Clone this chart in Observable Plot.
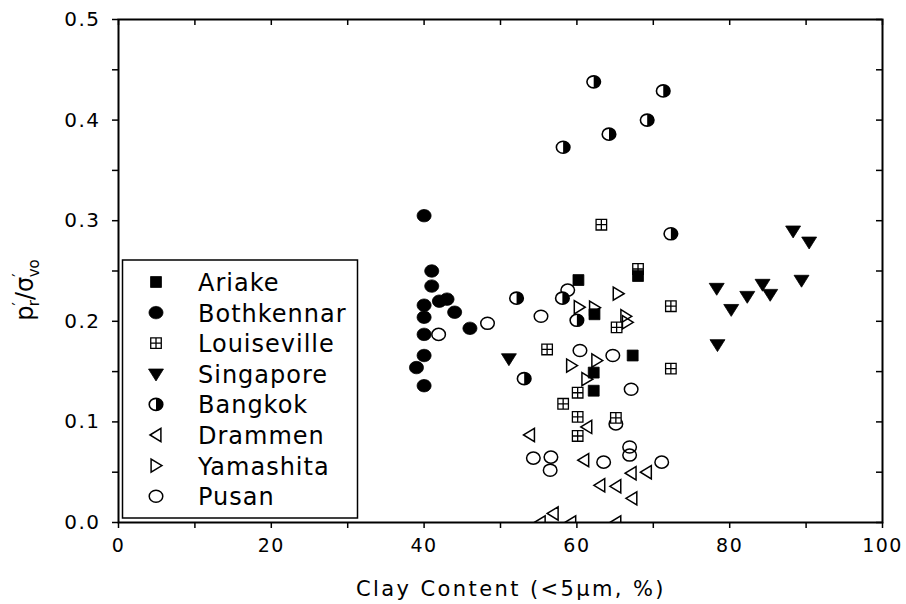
<!DOCTYPE html>
<html><head><meta charset="utf-8">
<script src="https://cdn.jsdelivr.net/npm/d3@7"></script>
<script src="https://cdn.jsdelivr.net/npm/@observablehq/plot@0.6"></script>
<style>html,body{margin:0;padding:0;background:#fff;overflow:hidden}</style>
</head><body><div id="chart"></div>
<script>
// ---- data (clay content %, p'r/σ'vo) ----
const ariakeClay = [68.0, 60.2, 62.3, 67.3, 62.2, 62.2];
const ariakeRatio = [0.245, 0.241, 0.207, 0.166, 0.149, 0.131];
const bothkennarClay = [40, 41, 41, 40, 42, 43, 40, 44, 40, 46, 40, 39, 40];
const bothkennarRatio = [0.305, 0.250, 0.235, 0.216, 0.220, 0.222, 0.204, 0.209, 0.187, 0.193, 0.166, 0.154, 0.136];
const louisevilleClay = [63.2, 68.0, 72.3, 65.2, 56.1, 72.3, 60.1, 58.2, 60.1, 65.1, 60.1];
const louisevilleRatio = [0.296, 0.252, 0.215, 0.194, 0.172, 0.153, 0.129, 0.118, 0.105, 0.104, 0.086];
const singaporeClay = [51.1, 88.3, 90.4, 89.4, 84.3, 78.3, 85.3, 82.3, 80.2, 78.4];
const singaporeRatio = [0.163, 0.290, 0.279, 0.241, 0.237, 0.233, 0.227, 0.225, 0.212, 0.177];
const bangkokClay = [62.2, 71.3, 69.2, 64.2, 58.2, 72.3, 52.1, 58.1, 60.0, 53.1];
const bangkokRatio = [0.438, 0.429, 0.400, 0.386, 0.373, 0.287, 0.223, 0.223, 0.201, 0.143];
const drammenClay = [53.8, 61.3, 60.9, 67.1, 69.1, 63.0, 65.1, 67.2, 56.9, 55.2, 59.2, 65.1];
const drammenRatio = [0.087, 0.095, 0.062, 0.049, 0.050, 0.037, 0.036, 0.024, 0.009, 0.0, 0.0, 0.0];
const yamashitaClay = [65.4, 60.3, 62.3, 66.4, 66.6, 62.6, 59.3, 61.3];
const yamashitaRatio = [0.2275, 0.214, 0.2135, 0.205, 0.199, 0.161, 0.156, 0.1425];
const pusanClay = [41.9, 48.3, 55.3, 58.8, 60.4, 64.7, 67.1, 65.1, 66.9, 66.9, 54.3, 56.6, 56.5, 63.5, 71.1];
const pusanRatio = [0.187, 0.198, 0.205, 0.231, 0.171, 0.166, 0.1325, 0.098, 0.075, 0.067, 0.064, 0.065, 0.052, 0.060, 0.060];

const siteNames = ["Ariake", "Bothkennar", "Louiseville", "Singapore", "Bangkok", "Drammen", "Yamashita", "Pusan"];
const xTicks = [0, 10, 20, 30, 40, 50, 60, 70, 80, 90, 100];
const yTicks = [0, 0.05, 0.1, 0.15, 0.2, 0.25, 0.3, 0.35, 0.4, 0.45, 0.5];
const xTitle = "Clay Content (<5\u03bcm, %)";

const rows = (xs, ys) => xs.map((x, i) => ({x, y: ys[i]}));

// ---- custom symbols ----
function ellipse(ctx, rx, ry) {
  const k = 0.5523;
  ctx.moveTo(rx, 0);
  ctx.bezierCurveTo(rx, ry * k, rx * k, ry, 0, ry);
  ctx.bezierCurveTo(-rx * k, ry, -rx, ry * k, -rx, 0);
  ctx.bezierCurveTo(-rx, -ry * k, -rx * k, -ry, 0, -ry);
  ctx.bezierCurveTo(rx * k, -ry, rx, -ry * k, rx, 0);
  ctx.closePath();
}
const R = s => Math.sqrt(s / Math.PI);
const symEllipse = {draw(ctx, s) { const r = R(s); ellipse(ctx, r * 1.06, r * 0.94); }};
const symRightHalf = {draw(ctx, s) {
  const r = R(s), rx = r * 1.06, ry = r * 0.94, k = 0.5523;
  ctx.moveTo(0, -ry);
  ctx.bezierCurveTo(rx * k, -ry, rx, -ry * k, rx, 0);
  ctx.bezierCurveTo(rx, ry * k, rx * k, ry, 0, ry);
  ctx.closePath();
}};
const symSquare = {draw(ctx, s) { const a = R(s) * 0.88; ctx.rect(-a, -a, 2 * a, 2 * a); }};
const symSquareCross = {draw(ctx, s) {
  const a = R(s) * 0.85;
  ctx.rect(-a, -a, 2 * a, 2 * a);
  ctx.moveTo(-a, 0); ctx.lineTo(a, 0);
  ctx.moveTo(0, -a); ctx.lineTo(0, a);
}};
const symTriDown = {draw(ctx, s) {
  const r = R(s), w = r * 1.1, h = r * 1.75;
  ctx.moveTo(-w, -h * 0.4); ctx.lineTo(w, -h * 0.4); ctx.lineTo(0, h * 0.6); ctx.closePath();
}};
const symTriLeft = {draw(ctx, s) {
  const r = R(s), w = r * 1.0, h = r * 1.65;
  ctx.moveTo(-h * 0.55, 0); ctx.lineTo(h * 0.45, -w); ctx.lineTo(h * 0.45, w); ctx.closePath();
}};
const symTriRight = {draw(ctx, s) {
  const r = R(s), w = r * 1.0, h = r * 1.65;
  ctx.moveTo(h * 0.55, 0); ctx.lineTo(-h * 0.45, -w); ctx.lineTo(-h * 0.45, w); ctx.closePath();
}};

const styles = {
  Ariake: [{symbol: symSquare, r: 6.2, fill: "black", stroke: "black", strokeWidth: 0.8}],
  Bothkennar: [{symbol: symEllipse, r: 6.6, fill: "black", stroke: "black", strokeWidth: 0.8}],
  Louiseville: [{symbol: symSquareCross, r: 6.2, fill: "white", stroke: "black", strokeWidth: 1.3}],
  Singapore: [{symbol: symTriDown, r: 6.8, fill: "black", stroke: "black", strokeWidth: 0.8}],
  Bangkok: [{symbol: symEllipse, r: 6.4, fill: "white", stroke: "black", strokeWidth: 1.6},
            {symbol: symRightHalf, r: 6.4, fill: "black", stroke: "none"}],
  Drammen: [{symbol: symTriLeft, r: 6.6, fill: "none", stroke: "black", strokeWidth: 1.5}],
  Yamashita: [{symbol: symTriRight, r: 6.6, fill: "none", stroke: "black", strokeWidth: 1.5}],
  Pusan: [{symbol: symEllipse, r: 6.4, fill: "none", stroke: "black", strokeWidth: 1.5}]
};
const siteData = {
  Ariake: rows(ariakeClay, ariakeRatio),
  Bothkennar: rows(bothkennarClay, bothkennarRatio),
  Louiseville: rows(louisevilleClay, louisevilleRatio),
  Singapore: rows(singaporeClay, singaporeRatio),
  Bangkok: rows(bangkokClay, bangkokRatio),
  Drammen: rows(drammenClay, drammenRatio),
  Yamashita: rows(yamashitaClay, yamashitaRatio),
  Pusan: rows(pusanClay, pusanRatio)
};

const W = 906, H = 604, mL = 118, mR = 24, mT = 19, mB = 82;
const plotW = W - mL - mR, plotH = H - mT - mB;

const dotMarks = [];
for (const name of ["Pusan", "Drammen", "Yamashita", "Louiseville", "Bangkok", "Bothkennar", "Ariake", "Singapore"]) {
  for (const st of styles[name]) {
    dotMarks.push(Plot.dot(siteData[name], {x: "x", y: "y", ...st, clip: true}));
  }
}

const plot = Plot.plot({
  width: W, height: H,
  marginLeft: mL, marginRight: mR, marginTop: mT, marginBottom: mB,
  style: {fontFamily: "'DejaVu Sans', sans-serif", color: "black", background: "white", letterSpacing: "1.5px"},
  x: {domain: [0, 100]},
  y: {domain: [0, 0.5]},
  marks: [
    Plot.axisX({ticks: xTicks, tickSize: 6, tickPadding: 10, fontSize: 19, label: null,
      tickFormat: d => (d % 20 === 0 ? String(d) : ""), strokeWidth: 1.5}),
    Plot.axisY({ticks: yTicks, tickSize: 6, tickPadding: 12, fontSize: 20, label: null,
      tickFormat: d => (Math.round(d * 100) % 10 === 0 ? d.toFixed(1) : ""), strokeWidth: 1.5}),
    Plot.tickX(xTicks, {x: d => d, insetBottom: plotH - 6, stroke: "black", strokeWidth: 1.5}),
    Plot.tickY(yTicks, {y: d => d, insetLeft: plotW - 6, stroke: "black", strokeWidth: 1.5}),
    ...dotMarks,
    Plot.frame({stroke: "black", strokeWidth: 2})
  ]
});
document.getElementById("chart").appendChild(plot);

// ---- legend, titles ----
const svg = d3.select(plot);
const leg = svg.append("g");
leg.append("rect").attr("x", 122.5).attr("y", 260).attr("width", 235).attr("height", 258)
  .attr("fill", "white").attr("stroke", "black").attr("stroke-width", 1.5);
siteNames.forEach((name, i) => {
  const cy = 282 + i * 30.6;
  for (const st of styles[name]) {
    leg.append("path")
      .attr("d", d3.symbol(st.symbol, st.r * st.r * Math.PI)())
      .attr("transform", `translate(156,${cy})`)
      .attr("fill", st.fill).attr("stroke", st.stroke).attr("stroke-width", st.strokeWidth || 0);
  }
  leg.append("text").attr("x", 198).attr("y", cy + 9).attr("text-anchor", "start")
    .attr("font-size", 24).attr("letter-spacing", "1px").attr("fill", "black").text(name);
});

svg.append("text").attr("x", 511).attr("y", 596).attr("text-anchor", "middle")
  .attr("font-size", 21).attr("letter-spacing", "2.4px").attr("fill", "black").text(xTitle);

const yt = svg.append("text").attr("transform", "translate(33,290) rotate(-90)")
  .attr("text-anchor", "middle").attr("font-size", 24).attr("letter-spacing", "0px").attr("fill", "black");
yt.append("tspan").text("p");
yt.append("tspan").attr("dy", -9).attr("font-size", 15).text("\u2032");
yt.append("tspan").attr("dx", -4).attr("dy", 15).attr("font-size", 15).text("r");
yt.append("tspan").attr("dy", -6).text("/\u03c3");
yt.append("tspan").attr("dy", -9).attr("font-size", 15).text("\u2032");
yt.append("tspan").attr("dx", -4).attr("dy", 15).attr("font-size", 15).text("vo");
</script></body></html>
